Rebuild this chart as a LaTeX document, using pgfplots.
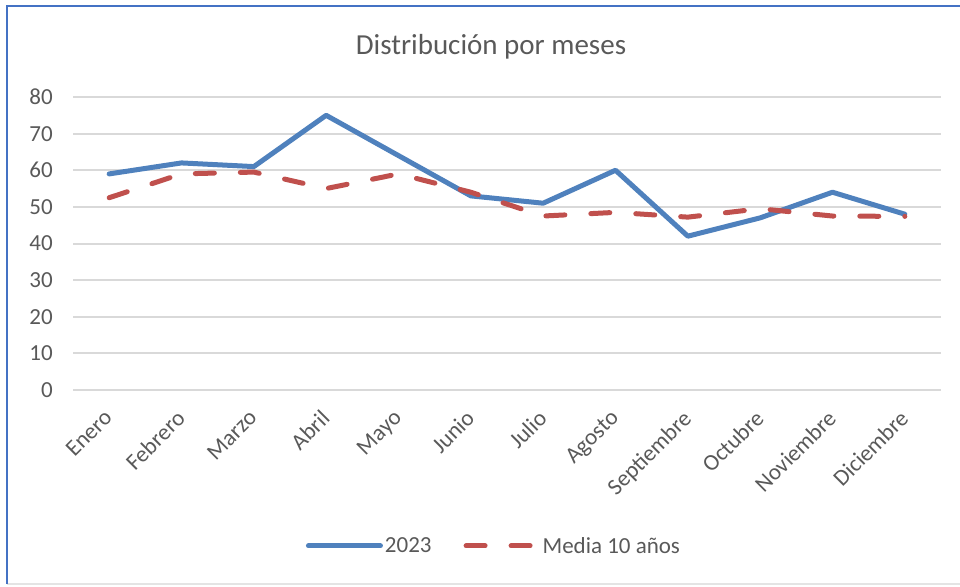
\documentclass[border=0pt]{standalone}
\usepackage{pgfplots}
\pgfplotsset{compat=1.18}
\usepackage{fontspec}
\setmainfont{Carlito}
\definecolor{serblue}{HTML}{4F81BD}
\definecolor{serred}{HTML}{C0504D}
\definecolor{gridgray}{HTML}{D9D9D9}
\definecolor{labelgray}{HTML}{595959}
\definecolor{frameblue}{HTML}{4472C4}
\begin{document}
\begin{tikzpicture}
\path[use as bounding box] (0pt,0pt) rectangle (960pt,586pt);
\draw[gridgray!70, line width=2pt] (7pt,2pt) -- (960pt,2pt);
\draw[frameblue, line width=2pt] (7pt,2pt) -- (7pt,580pt) -- (960pt,580pt);
\node[font=\fontsize{29}{34}\selectfont, text=labelgray] at (491pt,539pt) {Distribución por meses};
\begin{axis}[
  at={(73pt,196pt)}, anchor=south west,
  scale only axis, width=868pt, height=293pt,
  xmin=-0.5, xmax=11.5, ymin=0, ymax=80,
  ytick={0,10,...,80},
  xtick={0,...,11},
  xticklabels={Enero,Febrero,Marzo,Abril,Mayo,Junio,Julio,Agosto,Septiembre,Octubre,Noviembre,Diciembre},
  ymajorgrids,
  grid style={draw=gridgray, line width=2pt},
  axis line style={draw=none},
  major tick length=0pt,
  tick label style={font=\fontsize{23}{27}\selectfont, text=labelgray},
  /pgf/number format/assume math mode=true,
  yticklabel style={anchor=east, inner sep=0pt, xshift=-20pt},
  xticklabel style={rotate=45, anchor=north east, inner sep=0pt, xshift=-17.5pt, yshift=-8.5pt},
  clip=false,
  legend style={at={(rel axis cs:0.485,-0.532)}, anchor=center, draw=none, fill=none,
    font=\fontsize{23}{27}\selectfont, text=labelgray, legend columns=2,
    /tikz/every even column/.append style={column sep=30pt},
    legend cell align=left},
  legend image code/.code={\draw[#1] (0pt,0pt) -- (72pt,0pt);},
]
\addplot[serblue, line width=5pt, line join=round, line cap=round] coordinates {
(0,59) (1,62) (2,61) (3,75) (4,64) (5,53) (6,51) (7,60) (8,42) (9,47) (10,54) (11,48)};
\addlegendentry{2023}
\addplot[serred, line width=5pt, line cap=round, line join=round, dash pattern=on 19pt off 26pt] coordinates {
(0,52.5) (1,59) (2,59.5) (3,55) (4,59) (5,54) (6,47.5) (7,48.5) (8,47.2) (9,49.5) (10,47.5) (11,47.4)};
\addlegendentry{Media 10 años}
\end{axis}
\end{tikzpicture}
\end{document}
